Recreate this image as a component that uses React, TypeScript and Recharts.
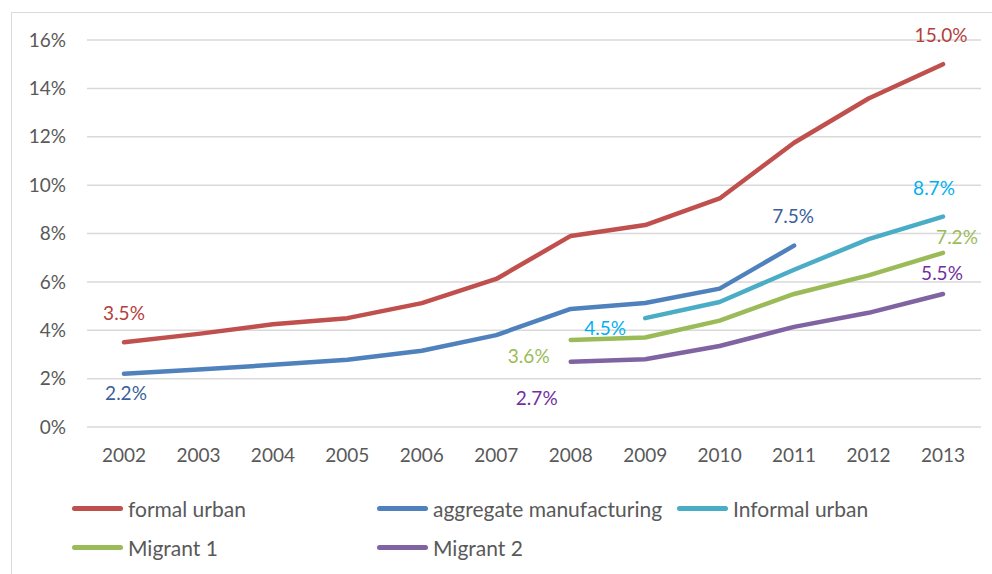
import React from 'react';
import { LineChart, Line, XAxis, YAxis, CartesianGrid, LabelList } from 'recharts';

const years = ['2002', '2003', '2004', '2005', '2006', '2007', '2008', '2009', '2010', '2011', '2012', '2013'];

const formalUrban = [3.5, 3.85, 4.25, 4.5, 5.12, 6.12, 7.9, 8.35, 9.45, 11.75, 13.58, 15.0];
const aggregateManufacturing = [2.2, 2.38, 2.57, 2.78, 3.15, 3.8, 4.88, 5.13, 5.72, 7.5, null, null];
const informalUrban = [null, null, null, null, null, null, null, 4.5, 5.17, 6.5, 7.77, 8.7];
const migrant1 = [null, null, null, null, null, null, 3.6, 3.7, 4.4, 5.5, 6.27, 7.2];
const migrant2 = [null, null, null, null, null, null, 2.7, 2.8, 3.35, 4.14, 4.72, 5.5];

const yTicks = [0, 2, 4, 6, 8, 10, 12, 14, 16];

const data = years.map((year, i) => ({
    year,
    formal: formalUrban[i],
    aggregate: aggregateManufacturing[i],
    informal: informalUrban[i],
    m1: migrant1[i],
    m2: migrant2[i],
}));

// label offsets (label centre relative to the point) for first / last point
const series = [
    { key: 'formal', name: 'formal urban', color: '#C0504D', labelColor: '#B3403C', values: formalUrban, first: [0, -30], last: [-2, -30] },
    { key: 'aggregate', name: 'aggregate manufacturing', color: '#4F81BD', labelColor: '#3A5F9A', values: aggregateManufacturing, first: [2, 19], last: [-1, -30] },
    { key: 'informal', name: 'Informal urban', color: '#4BACC6', labelColor: '#00B0F0', values: informalUrban, first: [-40, 9], last: [-9, -29] },
    { key: 'm1', name: 'Migrant 1', color: '#9BBB59', labelColor: '#9BBB59', values: migrant1, first: [-42, 16], last: [14, -16] },
    { key: 'm2', name: 'Migrant 2', color: '#8064A2', labelColor: '#7030A0', values: migrant2, first: [-34, 36], last: [-1, -21] },
];

const FONT = 'Lato, "Noto Sans", sans-serif';

const legendPos = [
    { x: 72, y: 508 },
    { x: 377, y: 508 },
    { x: 677, y: 508 },
    { x: 72, y: 547 },
    { x: 377, y: 547 },
];

const makeLabel = (s: typeof series[number]) => (props: any) => {
    const { x, y, index, value } = props;
    if (value == null) return null;
    const idxs = s.values.map((v, i) => (v == null ? -1 : i)).filter((i) => i >= 0);
    const firstIdx = idxs[0];
    const lastIdx = idxs[idxs.length - 1];
    let off: number[] | null = null;
    if (index === firstIdx) off = s.first;
    else if (index === lastIdx) off = s.last;
    if (!off) return null;
    return (
        <text
            x={x + off[0]}
            y={y + off[1]}
            fill={s.labelColor}
            fontSize={19}
            fontFamily={FONT}
            textAnchor="middle"
            dominantBaseline="central"
        >
            {Number(value).toFixed(1)}%
        </text>
    );
};

const App: React.FC = () => {
    return (
        <div style={{ position: 'absolute', left: 0, top: 0, width: 992, height: 574, overflow: 'hidden', background: '#fff' }}>
            <div
                style={{
                    position: 'absolute',
                    left: 11,
                    top: 12,
                    width: 1100,
                    height: 700,
                    border: '1.5px solid #D9D9D9',
                }}
            />
            <LineChart
                width={992}
                height={574}
                data={data}
                margin={{ top: 40, right: 11, left: 0, bottom: 117 }}
                style={{ position: 'absolute', left: 0, top: 0 }}
            >
                <CartesianGrid vertical={false} stroke="#D9D9D9" strokeWidth={1.5} />
                <XAxis
                    dataKey="year"
                    height={30}
                    padding={{ left: 37, right: 38 }}
                    axisLine={false}
                    tickLine={false}
                    tickMargin={16}
                    tick={{ fill: '#595959', fontSize: 19, fontFamily: FONT }}
                    interval={0}
                />
                <YAxis
                    width={87}
                    domain={[0, 16]}
                    ticks={yTicks}
                    axisLine={false}
                    tickLine={false}
                    tickMargin={15}
                    tickFormatter={(v: number) => `${v}%`}
                    tick={{ fill: '#595959', fontSize: 19, fontFamily: FONT }}
                />
                {series.map((s) => (
                    <Line
                        key={s.key}
                        dataKey={s.key}
                        name={s.name}
                        type="linear"
                        stroke={s.color}
                        strokeWidth={4.5}
                        strokeLinecap="round"
                        strokeLinejoin="round"
                        dot={false}
                        activeDot={false}
                        connectNulls={false}
                        isAnimationActive={false}
                    >
                        <LabelList dataKey={s.key} content={makeLabel(s)} />
                    </Line>
                ))}
            </LineChart>
            {series.map((s, i) => (
                <div
                    key={s.key}
                    style={{
                        position: 'absolute',
                        left: legendPos[i].x,
                        top: legendPos[i].y - 13,
                        height: 26,
                        display: 'flex',
                        alignItems: 'center',
                        fontFamily: FONT,
                        fontSize: 21,
                        color: '#595959',
                        whiteSpace: 'nowrap',
                    }}
                >
                    <span style={{ display: 'inline-block', width: 51, height: 5, borderRadius: 3, background: s.color, marginRight: 5 }} />
                    {s.name}
                </div>
            ))}
        </div>
    );
};

export default App;
